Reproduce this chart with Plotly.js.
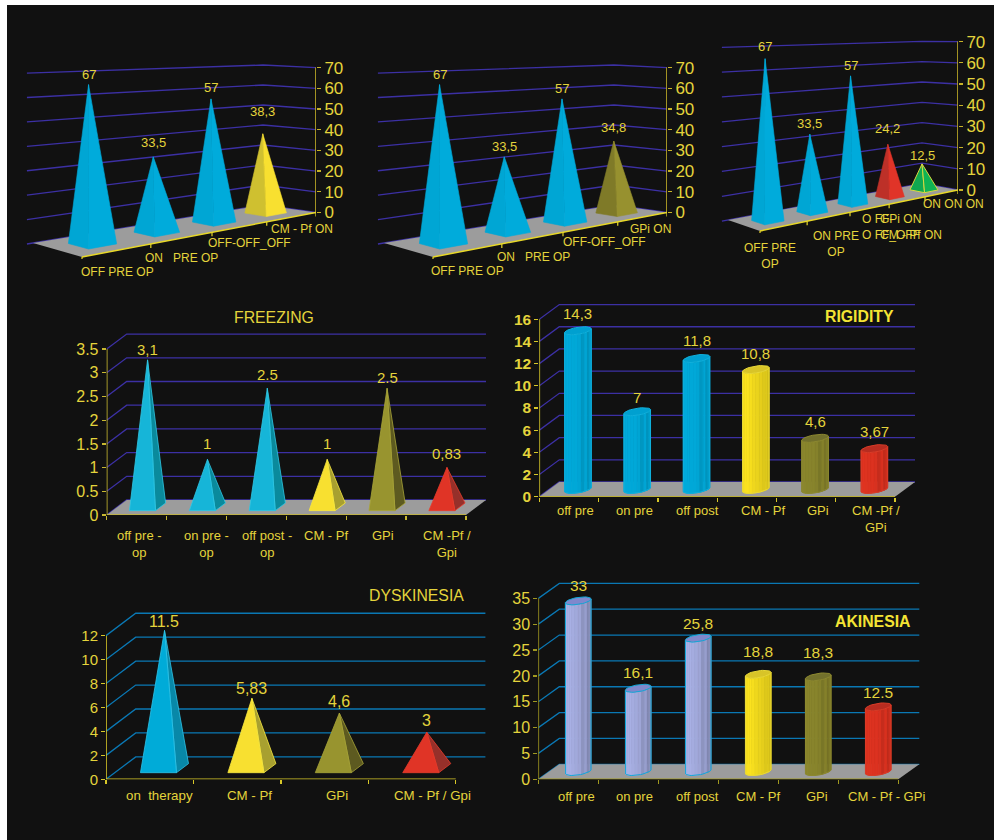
<!DOCTYPE html>
<html>
<head>
<meta charset="utf-8">
<script src="https://cdn.plot.ly/plotly-3.0.1.min.js"></script>
<style>html,body{margin:0;padding:0;background:#fff}#chart{width:994px;height:840px}</style>
</head>
<body>
<div id="chart"></div>
<script>
// ---- values per chart ----
const tremorOneCategories = ['OFF PRE OP', 'ON\u00a0\u00a0\u00a0PRE OP', 'OFF-OFF_OFF', 'CM - Pf ON'];
const tremorOneValues = [67, 33.5, 57, 38.3];
const tremorOneLabels = ['67', '33,5', '57', '38,3'];

const tremorTwoCategories = ['OFF PRE OP', 'ON\u00a0\u00a0\u00a0PRE OP', 'OFF-OFF_OFF', 'GPi ON'];
const tremorTwoValues = [67, 33.5, 57, 34.8];
const tremorTwoLabels = ['67', '33,5', '57', '34,8'];

const tremorThreeCategories = ['OFF PRE<br>OP', 'ON PRE<br>OP', 'O FF-<br>O FF_OFF', 'GPi ON<br>CM - Pf ON', 'ON ON ON'];
const tremorThreeValues = [67, 33.5, 57, 24.2, 12.5];
const tremorThreeLabels = ['67', '33,5', '57', '24,2', '12,5'];

const freezingCategories = ['off pre -<br>op', 'on pre -<br>op', 'off post -<br>op', 'CM - Pf', 'GPi', 'CM -Pf /<br>Gpi'];
const freezingValues = [3.1, 1, 2.5, 1, 2.5, 0.83];
const freezingLabels = ['3,1', '1', '2.5', '1', '2.5', '0,83'];
const freezingTicks = ['0', '0.5', '1', '1.5', '2', '2.5', '3', '3.5'];

const rigidityCategories = ['off pre', 'on pre', 'off post', 'CM - Pf', 'GPi', 'CM -Pf /<br>GPi'];
const rigidityValues = [14.3, 7, 11.8, 10.8, 4.6, 3.67];
const rigidityLabels = ['14,3', '7', '11,8', '10,8', '4,6', '3,67'];

const dyskinesiaCategories = ['on\u00a0\u00a0therapy', 'CM - Pf', 'GPi', 'CM - Pf / Gpi'];
const dyskinesiaValues = [11.5, 5.83, 4.6, 3];
const dyskinesiaLabels = ['11.5', '5,83', '4,6', '3'];

const akinesiaCategories = ['off pre', 'on pre', 'off post', 'CM - Pf', 'GPi', 'CM - Pf - GPi'];
const akinesiaValues = [33, 16.1, 25.8, 18.8, 18.3, 12.5];
const akinesiaLabels = ['33', '16,1', '25,8', '18,8', '18,3', '12.5'];

// ---- palette ----
const W = 994, H = 840;
const TEXT = '#e4d43c';
const PURPLE_GRID = '#3c30a4', BLUE_GRID = '#0a78b4';
const SKY = {a: '#00a6d4', b: '#00abdb', edge: '#00abdb'};
const SUN = {a: '#cfc030', b: '#f8e030', edge: '#f8e030'};
const OLIVE = {a: '#7f7a28', b: '#97912f', edge: '#97912f'};
const RED = {a: '#bd3028', b: '#e03428', edge: '#e03428'};
const GREEN = {a: '#10a850', b: '#10b454', edge: '#d8d840'};
const F_SKY = {a: '#16b5d8', b: '#0a8a9c', edge: '#30c8e4'};
const D_SKY = {a: '#00abd8', b: '#0888a8', edge: '#30c4e8'};
const F_SUN = {a: '#f8e030', b: '#a8a030', edge: '#f8e840'};
const F_OLIVE = {a: '#98942f', b: '#5d5a20', edge: '#a8a438'};
const F_RED = {a: '#e03426', b: '#96302a', edge: '#e83c2c'};

const PLAIN_SHADE = [1.0, 1.02, 1.02, 1.01, 1.0, 1.0, 0.98, 0.9, 0.98, 0.88, 0.96, 0.94];
const SOFT_SHADE = [0.98, 1.0, 1.02, 1.02, 1.0, 0.97, 0.95, 0.93, 0.9, 0.92, 0.88, 0.9];
const RAMP_SHADE = [1.02, 1.02, 1.0, 1.0, 0.98, 0.96, 0.94, 0.84, 0.9, 0.78, 0.84, 0.8];
const CYL_SKY = {body: [0, 168, 216], cap: '#00a0d0', edge: '#10b0dc', shade: PLAIN_SHADE};
const CYL_SUN = {body: [246, 222, 30], cap: '#d8c428', edge: '#e8d838', shade: SOFT_SHADE};
const CYL_OLIVE = {body: [136, 132, 44], cap: '#72702c', edge: '#8c8830', shade: PLAIN_SHADE};
const CYL_RED = {body: [220, 50, 32], cap: '#b82c20', edge: '#d83c28', shade: PLAIN_SHADE};
const CYL_LAV = {body: [168, 176, 228], cap: '#8088cc', edge: '#10a8d8', shade: RAMP_SHADE};

// ---- chart descriptions: floor corners are given in page pixels ----
function skewedFrame(dx) {
  return {kind: 'skew', k: 0.25, A: [82 + dx, 257], D: [316 + dx, 212.5], B: [33 + dx, 243], C: [263 + dx, 205],
    sa: 2.45, sb: 2.43, sc: 2.0, sd: 2.07, gridStart: -0.021, axisScale: 2.07};
}
function flatFrame(x0, x1, y0, dx, dy, scale) {
  return {kind: 'flat', k: 0, A: [x0, y0], D: [x1, y0], B: [x0 + dx, y0 - dy], C: [x1 + dx, y0 - dy],
    sa: scale, sb: scale, sc: scale, sd: scale, gridStart: 0, axisScale: scale};
}

const charts = [
  {frame: skewedFrame(0), n: 1, cats: tremorOneCategories, vals: tremorOneValues, labels: tremorOneLabels,
    colors: [SKY, SKY, SKY, SUN], max: 70, step: 10, grid: PURPLE_GRID, tickSize: 17, valueSize: 13, catSize: 12,
    gaps: [10, 14, 11.5, 22], axisColor: '#c8b428', xAxisColor: '#e8d828',
    catPos: [[117, 273], [181, 259], [250, 244], [302, 230]]},
  {frame: skewedFrame(351), n: 2, cats: tremorTwoCategories, vals: tremorTwoValues, labels: tremorTwoLabels,
    colors: [SKY, SKY, SKY, OLIVE], max: 70, step: 10, grid: PURPLE_GRID, tickSize: 17, valueSize: 13, catSize: 12,
    gaps: [10, 10, 10, 14], axisColor: '#c8b428', xAxisColor: '#e8d828',
    catPos: [[467, 272], [533, 258], [604, 243], [650, 230]]},
  {frame: {kind: 'skew', k: 0.25, A: [760, 231], D: [958, 190], B: [728, 220], C: [922, 183.5],
      sa: 2.47, sb: 2.47, sc: 2.03, sd: 2.12, gridStart: -0.025, axisScale: 2.12},
    n: 3, cats: tremorThreeCategories, vals: tremorThreeValues, labels: tremorThreeLabels,
    colors: [SKY, SKY, SKY, RED, GREEN], max: 70, step: 10, grid: PURPLE_GRID, tickSize: 17, valueSize: 13, catSize: 12,
    gaps: [12, 10.5, 10, 16, 8], axisColor: '#c8b428', xAxisColor: '#e8d828',
    catPos: [[770, 249], [836, 237], [861, 220, 'left'], [879, 220, 'left'], [953, 205]]},
  {frame: flatFrame(106.7, 466, 515, 20, 15, 47.4), n: 4, cats: freezingCategories, vals: freezingValues, labels: freezingLabels,
    colors: [F_SKY, F_SKY, F_SKY, F_SUN, F_OLIVE, F_RED], max: 3.5, step: 0.5, ticks: freezingTicks,
    grid: PURPLE_GRID, tickSize: 16, valueSize: 15, catSize: 13, gaps: [10, 16, 14, 16, 11, 14],
    axisColor: '#c8b830', xAxisColor: '#c8b830', hw: 0.217, df: 0.29, db: 0.8,
    catPos: [[139, 536], [206, 536], [267, 536], [326, 536], [383, 536], [447, 536]],
    title: {text: 'FREEZING', x: 274, y: 317, bold: false}},
  {frame: flatFrame(539.3, 895, 496.7, 20, 14.7, 11.09), n: 5, cats: rigidityCategories, vals: rigidityValues, labels: rigidityLabels,
    cyl: [CYL_SKY, CYL_SKY, CYL_SKY, CYL_SUN, CYL_OLIVE, CYL_RED], max: 16, step: 2,
    grid: PURPLE_GRID, tickSize: 15.5, tickBold: true, valueSize: 15, catSize: 13, gaps: [17, 14, 18, 16, 16.5, 17],
    axisColor: '#d8c828', xAxisColor: '#d8c828', rx: 13.3, ry: 3.5, slope: -0.15, d: 0.5, nudge: -1,
    catPos: [[575, 511], [634, 511], [697, 511], [763, 511], [818, 511], [876, 511]],
    title: {text: 'RIGIDITY', x: 859, y: 316.5, bold: true}},
  {frame: flatFrame(106, 455.7, 779.3, 29.7, 22.4, 11.97), n: 6, cats: dyskinesiaCategories, vals: dyskinesiaValues, labels: dyskinesiaLabels,
    colors: [D_SKY, F_SUN, F_OLIVE, F_RED], max: 12, step: 2, noFloor: true,
    grid: BLUE_GRID, tickSize: 15, valueSize: 16, catSize: 13.3, gaps: [9, 10, 12, 12],
    axisColor: '#d8c828', xAxisColor: '#d8c828', hw: 0.206, df: 0.295, db: 0.7,
    catPos: [[159, 797], [250, 797], [337, 797], [432, 797]],
    title: {text: 'DYSKINESIA', x: 416, y: 595, bold: false}},
  {frame: flatFrame(538.3, 898.3, 779.3, 21, 15, 5.17), n: 7, cats: akinesiaCategories, vals: akinesiaValues, labels: akinesiaLabels,
    cyl: [CYL_LAV, CYL_LAV, CYL_LAV, CYL_SUN, CYL_OLIVE, CYL_RED], max: 35, step: 5,
    grid: BLUE_GRID, tickSize: 16, valueSize: 15.5, catSize: 13, gaps: [15, 16, 15, 23, 24, 14],
    axisColor: '#a09820', xAxisColor: '#a09820', rx: 12.8, ry: 3.5, slope: -0.15, d: 0.52, nudge: -1,
    catPos: [[576, 797], [634, 797], [697, 797], [758, 797], [817, 797], [886, 797]],
    title: {text: 'AKINESIA', x: 872, y: 621.5, bold: true}}
];

const traces = [], annotations = [], layout = {
  width: W, height: H, margin: {l: 0, r: 0, t: 0, b: 0}, paper_bgcolor: '#ffffff', plot_bgcolor: 'rgba(0,0,0,0)',
  showlegend: false, hovermode: false, font: {family: 'Liberation Sans, Arial, sans-serif', color: TEXT},
  shapes: [{type: 'rect', xref: 'paper', yref: 'paper', x0: 7 / W, x1: 1, y0: 0, y1: 1 - 5 / H, layer: 'below',
    fillcolor: '#111111', line: {width: 0}}]
};

const lerp = (a, b, t) => a + (b - a) * t;
function tint(rgb, m) { return 'rgb(' + rgb.map(c => Math.max(0, Math.min(255, Math.round(c * m)))).join(',') + ')'; }

charts.forEach(ch => {
  const fr = ch.frame, count = ch.vals.length, id = ch.n === 1 ? '' : String(ch.n);
  const xName = 'x' + id, yName = 'y' + id;
  const [x0, x1] = [fr.A[0], fr.D[0]];
  const y0 = fr.D[1];
  // Page pixels to this chart's category and value units
  const X = px => (px - x0) / (x1 - x0) * count;
  const Y = py => (y0 - py) / fr.axisScale;
  // Point above the floor: s runs along the front edge, d runs from front to back
  const proj = (s, d, v) => {
    const f = s * (1 + fr.k) / (1 + fr.k * s);
    const fx = lerp(fr.A[0], fr.D[0], f), fy = lerp(fr.A[1], fr.D[1], f);
    const bx = lerp(fr.B[0], fr.C[0], f), by = lerp(fr.B[1], fr.C[1], f);
    const sFront = lerp(fr.sa, fr.sd, f), sBack = lerp(fr.sb, fr.sc, f);
    return [lerp(fx, bx, d), lerp(fy, by, d) - v * lerp(sFront, sBack, d)];
  };
  const poly = (pts, fill, edge, width) => traces.push({
    type: 'scatter', mode: 'lines', xaxis: xName, yaxis: yName, cliponaxis: false, hoverinfo: 'skip',
    x: pts.map(p => X(p[0])), y: pts.map(p => Y(p[1])), fill: 'toself', fillcolor: fill,
    line: {color: edge || fill, width: width === undefined ? 0.6 : width}
  });
  const path = (pts, color, width) => traces.push({
    type: 'scatter', mode: 'lines', xaxis: xName, yaxis: yName, cliponaxis: false, hoverinfo: 'skip',
    x: pts.map(p => p ? X(p[0]) : null), y: pts.map(p => p ? Y(p[1]) : null), line: {color: color, width: width}
  });

  // Back walls with their value lines
  const tickVals = [], gridPts = [];
  for (let v = 0; v <= ch.max + 1e-9; v += ch.step) tickVals.push(+v.toFixed(3));
  tickVals.forEach(v => {
    if (fr.kind === 'skew') gridPts.push(proj(fr.gridStart, 1, v), proj(1, 1, v), proj(1, 0, v), null);
    else gridPts.push(proj(0, 0, v), proj(0, 1, v), proj(1, 1, v), null);
  });
  path(gridPts, ch.grid, 1.3);

  // Floor
  if (!ch.noFloor) poly([proj(0, 0, 0), proj(0, 1, 0), proj(1, 1, 0), proj(1, 0, 0), proj(0, 0, 0)], '#9c9c9c', '#9c9c9c', 0);

  // Marks
  const tops = [];
  ch.vals.forEach((v, i) => {
    const sc = (i + 0.5) / count;
    if (fr.kind === 'skew') {
      const hw = 0.205 / count, hd = 0.205, dc = 0.5;
      const left = proj(sc - hw, dc + hd, 0), front = proj(sc - hw, dc - hd, 0), right = proj(sc + hw, dc - hd, 0);
      const apex = proj(sc - 0.06 / count, dc, v), col = ch.colors[i];
      const edgeW = col === GREEN ? 1 : 0.6;
      poly([left, front, apex, left], col.a, col === GREEN ? col.edge : col.a, edgeW);
      poly([front, right, apex, front], col.b, col === GREEN ? col.edge : col.b, edgeW);
      tops.push(apex);
    } else if (ch.colors) {
      const col = ch.colors[i], dc = (ch.df + ch.db) / 2;
      const half = ch.hw / count;
      const fl = proj(sc - half, ch.df, 0), fr2 = proj(sc + half, ch.df, 0), br = proj(sc + half, ch.db, 0);
      const apex = proj(sc, dc, v);
      poly([fr2, br, apex, fr2], col.b, col.edge, 0.8);
      poly([fl, fr2, apex, fl], col.a, col.edge, 0.8);
      tops.push(apex);
    } else {
      const col = ch.cyl[i], base = proj(sc, ch.d, 0), top = proj(sc, ch.d, v);
      const cx = base[0] + ch.nudge, N = col.shade.length;
      const ring = (cy, a) => [cx + ch.rx * Math.cos(a), cy + ch.slope * ch.rx * Math.cos(a) + ch.ry * Math.sin(a)];
      for (let j = 0; j < N; j++) {
        const a0 = Math.PI - j * Math.PI / N, a1 = Math.PI - (j + 1) * Math.PI / N;
        const c = tint(col.body, col.shade[j]);
        poly([ring(base[1], a0), ring(base[1], a1), ring(top[1], a1), ring(top[1], a0), ring(base[1], a0)], c, c, 0.8);
      }
      const capPts = [], outline = [];
      for (let j = 0; j <= 36; j++) capPts.push(ring(top[1], j * Math.PI / 18));
      for (let j = 0; j <= 18; j++) outline.push(ring(base[1], Math.PI - j * Math.PI / 18));
      poly(capPts, col.cap, col.edge, 1);
      path([ring(top[1], Math.PI)].concat(outline, [ring(top[1], 0)]), col.edge, 1);
      tops.push([cx, top[1]]);
    }
  });

  // Value labels sit a fixed gap above each mark
  ch.labels.forEach((t, i) => annotations.push({
    xref: xName, yref: yName, x: X(tops[i][0]), y: Y(tops[i][1]), text: t, showarrow: false,
    yanchor: 'middle', xanchor: 'center', yshift: ch.gaps[i], font: {size: ch.valueSize, color: TEXT}
  }));

  // Category names
  ch.cats.forEach((t, i) => {
    const p = ch.catPos[i], leftAligned = p[2] === 'left';
    annotations.push({
      xref: 'paper', yref: 'paper', x: p[0] / W, y: 1 - (p[1] - ch.catSize * 0.72) / H, text: t, showarrow: false,
      xanchor: leftAligned ? 'left' : 'center', yanchor: 'top', align: leftAligned ? 'left' : 'center', borderpad: 0,
      font: {size: ch.catSize, color: TEXT}
    });
  });

  if (ch.title) annotations.push({
    xref: 'paper', yref: 'paper', x: ch.title.x / W, y: 1 - ch.title.y / H, showarrow: false,
    xanchor: 'center', yanchor: 'middle',
    text: ch.title.bold ? '<b>' + ch.title.text + '</b>' : ch.title.text,
    font: {size: 15.8, color: ch.title.bold ? '#f4e434' : TEXT}
  });

  // Axis lines and the slanted category ticks
  const axisX = fr.kind === 'skew' ? x1 : x0;
  path([[axisX, y0], [axisX, y0 - ch.max * fr.axisScale]], ch.axisColor, 1.6);
  const edge = [];
  for (let j = 0; j <= 40; j++) edge.push(proj(j / 40, 0, 0));
  path(edge, ch.xAxisColor, 1.5);
  if (fr.kind === 'skew') {
    const marks = [];
    for (let i = 0; i <= count; i++) { const p = proj(i / count, 0, 0); marks.push(p, [p[0], p[1] + 4], null); }
    path(marks, ch.xAxisColor, 1.2);
  }

  // Subplot box: the value axis sits on its left or right edge
  const wallTop = Math.min(proj(0, 1, ch.max)[1], proj(1, 1, ch.max)[1]) - 3;
  const boxL = fr.kind === 'skew' ? proj(fr.gridStart, 1, 0)[0] - 3 : x0;
  const boxR = fr.kind === 'skew' ? x1 : fr.C[0] + 3;
  const boxB = fr.kind === 'skew' ? fr.A[1] + 2 : y0;
  const xKey = 'xaxis' + id, yKey = 'yaxis' + id;
  layout[xKey] = {
    domain: [boxL / W, boxR / W], range: [X(boxL), X(boxR)], anchor: yName, showgrid: false, zeroline: false, showline: false,
    visible: fr.kind !== 'skew', tickmode: 'array',
    tickvals: ch.cats.map((_, i) => i).concat([count]), ticks: 'outside', ticklen: 4, tickwidth: 1.3, tickcolor: ch.xAxisColor,
    showticklabels: false, fixedrange: true
  };
  layout[yKey] = {
    domain: [1 - boxB / H, 1 - wallTop / H], range: [Y(boxB), Y(wallTop)], anchor: xName,
    side: fr.kind === 'skew' ? 'right' : 'left', showgrid: false, zeroline: false, showline: false,
    tickmode: 'array', tickvals: tickVals, ticktext: ch.ticks || tickVals.map(String),
    ticks: 'outside', ticklen: 4, tickwidth: 1.3, tickcolor: ch.axisColor, fixedrange: true,
    tickfont: {size: ch.tickSize, color: TEXT, weight: ch.tickBold ? 'bold' : 'normal'}
  };
});

layout.annotations = annotations;
Plotly.newPlot('chart', traces, layout, {displayModeBar: false, staticPlot: true});
</script>
</body>
</html>
